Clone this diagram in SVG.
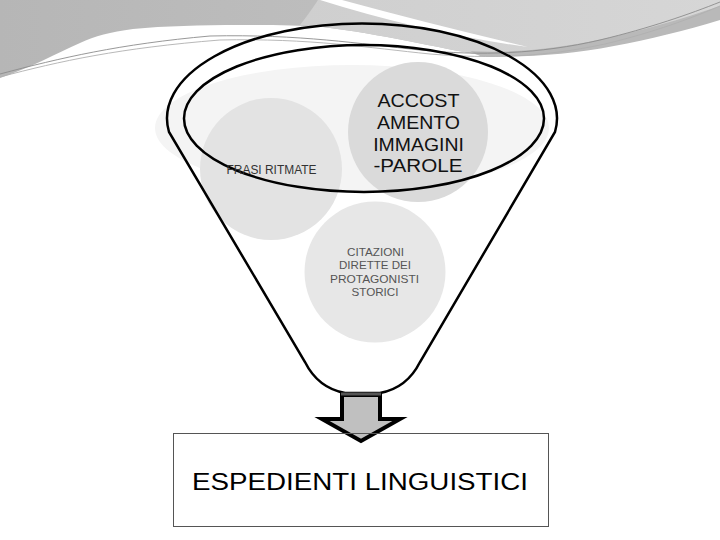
<svg xmlns="http://www.w3.org/2000/svg" width="720" height="540" viewBox="0 0 720 540">
  <defs>
    <linearGradient id="gLeft" x1="0" y1="0" x2="1" y2="0">
      <stop offset="0" stop-color="#b6b6b6"/>
      <stop offset="1" stop-color="#c6c6c6"/>
    </linearGradient>
    <linearGradient id="gRight" x1="0" y1="0" x2="1" y2="0">
      <stop offset="0" stop-color="#cfcfcf"/>
      <stop offset="1" stop-color="#d6d6d6"/>
    </linearGradient>
  </defs>
  <style>
    .bub { stroke: none; }
    .line { fill: none; stroke: #000; stroke-width: 2.5; }
    .thin { fill: none; stroke-width: 0.9; }
    .t { font-family: "Liberation Sans", Arial, sans-serif; text-anchor: middle; }
  </style>

  <!-- background decoration -->
  <g id="background">
    <rect x="0" y="0" width="720" height="540" fill="#ffffff"/>
    <path d="M0,0 H720 V12 C680,26 630,40 580,48 C540,54 505,57 480,55 C440,48 380,34 323,27 C300,25 270,25 240,25 C200,25 165,26 133,29 C110,32 95,36 80,43 C55,54 30,68 0,78 Z" fill="url(#gLeft)"/>
    <path d="M318,0 H720 V12 C680,26 630,40 580,48 C540,54 505,57 480,55 C440,48 380,34 323,27 L300,25 C308,15 314,6 318,0 Z" fill="url(#gRight)"/>
    <path d="M470,51 C540,55 620,40 720,6 L720,20 C640,44 560,60 480,56 Z" fill="#b9b9b9"/>
    <path d="M320,0 L342,0 Q430,24 528,47 Q425,33 320,0 Z" fill="#ffffff"/>
    <path class="thin" stroke="#8c8c8c" d="M0,74 C60,58 120,44 210,36 C300,34 360,44 420,50 C480,56 540,54 600,40 C650,28 690,14 720,2"/>
    <path class="thin" stroke="#b0b0b0" d="M0,77 C60,61 120,48 220,40 C310,38 370,48 430,54 C490,59 545,57 605,44 C655,32 692,18 720,6"/>
  </g>

  <!-- faint backdrop -->
  <ellipse cx="352" cy="128" rx="197" ry="63" fill="#f4f4f4"/>

  <g id="node-frasi">
    <circle class="bub" cx="271" cy="169" r="71" fill="#e3e3e3"/>
  </g>
  <g id="node-accost">
    <circle class="bub" cx="418" cy="132" r="70" fill="#dadada"/>
  </g>
  <g id="node-citazioni">
    <circle class="bub" cx="375" cy="272" r="70.5" fill="#e7e7e7"/>
  </g>

  <!-- funnel -->
  <g id="node-funnel">
    <path class="line" d="M169,132 A195,95 0 1 1 555,132 L420,362 Q407,388 380,393 L345,393 Q318,388 305,362 Z"/>
    <ellipse class="line" cx="364" cy="118.5" rx="180" ry="73.5"/>
  </g>

  <!-- labels -->
  <g id="labels">
    <text class="t" x="271.5" y="174" font-size="12.5" fill="#333" textLength="90" lengthAdjust="spacingAndGlyphs">FRASI RITMATE</text>
    <g fill="#111" font-size="17.5">
      <text class="t" x="418.5" y="107.3" textLength="82" lengthAdjust="spacingAndGlyphs">ACCOST</text>
      <text class="t" x="418.5" y="129" textLength="83" lengthAdjust="spacingAndGlyphs">AMENTO</text>
      <text class="t" x="418.5" y="150.7" textLength="90.7" lengthAdjust="spacingAndGlyphs">IMMAGINI</text>
      <text class="t" x="418" y="172.3" textLength="89" lengthAdjust="spacingAndGlyphs">-PAROLE</text>
    </g>
    <g fill="#555" font-size="10.5">
      <text class="t" x="375.5" y="256" textLength="57" lengthAdjust="spacingAndGlyphs">CITAZIONI</text>
      <text class="t" x="375" y="269.3" textLength="72" lengthAdjust="spacingAndGlyphs">DIRETTE DEI</text>
      <text class="t" x="374.5" y="282.6" textLength="89" lengthAdjust="spacingAndGlyphs">PROTAGONISTI</text>
      <text class="t" x="375" y="295.9" textLength="47" lengthAdjust="spacingAndGlyphs">STORICI</text>
    </g>
  </g>

  <!-- connector -->
  <g id="connectors">
    <path d="M342,395 H380 V419 H400 L361,441 L322,419 H342 Z" fill="#c0c0c0" stroke="#000" stroke-width="4" stroke-linejoin="miter"/>
    <path d="M341,394 H381" stroke="#555" stroke-width="3" fill="none"/>
  </g>

  <g id="node-result">
    <rect x="173.5" y="433.5" width="375" height="93" fill="none" stroke="#555" stroke-width="1"/>
    <text class="t" x="360" y="490" font-size="23.5" fill="#000" textLength="336" lengthAdjust="spacingAndGlyphs">ESPEDIENTI LINGUISTICI</text>
  </g>
</svg>
